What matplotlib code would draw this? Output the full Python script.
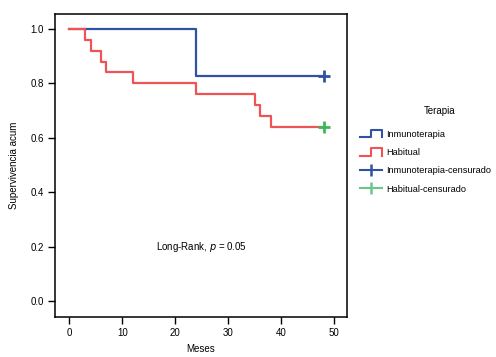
import matplotlib
matplotlib.use('Agg')
import matplotlib.pyplot as plt
from matplotlib.lines import Line2D
from matplotlib.legend_handler import HandlerBase

plt.rcParams['font.family'] = ['Liberation Sans', 'DejaVu Sans']

# ---- data ----
inmuno_t = [0, 24, 48]
inmuno_s = [1.0, 0.828, 0.828]
hab_t = [0, 3, 4, 6, 7, 12, 24, 35, 36, 38, 48]
hab_s = [1.0, 0.96, 0.92, 0.88, 0.84, 0.80, 0.76, 0.72, 0.68, 0.64, 0.64]
inmuno_cens_t = [48]
inmuno_cens_s = [0.828]
hab_cens_t = [48]
hab_cens_s = [0.64]
xticks = [0, 10, 20, 30, 40, 50]
yticks = [0.0, 0.2, 0.4, 0.6, 0.8, 1.0]
labels = ['Inmunoterapia', 'Habitual', 'Inmunoterapia-censurado', 'Habitual-censurado']

BLUE = '#2F52A3'
RED = '#EF5356'
GREEN = '#3DB55A'
GREEN_LEG = '#6CC68A'

fig = plt.figure(figsize=(4.96, 3.57), dpi=100)
ax = fig.add_axes([55/496, 1-317/357, (347-55)/496, (317-14)/357])

ax.step(inmuno_t, inmuno_s, where='post', color=BLUE, lw=1.6, zorder=2)
ax.step(hab_t, hab_s, where='post', color=RED, lw=1.6, zorder=3)
ax.plot(inmuno_cens_t, inmuno_cens_s, ls='none', marker='+', ms=9, mew=2, color=BLUE, zorder=4)
ax.plot(hab_cens_t, hab_cens_s, ls='none', marker='+', ms=9, mew=2, color=GREEN, zorder=4)

ax.set_xlim(-2.7, 52.4)
ax.set_ylim(-0.059, 1.055)
ax.set_xticks(xticks)
ax.set_yticks(yticks)
ax.set_yticklabels([f'{v:.1f}' for v in yticks])
ax.tick_params(direction='out', length=5, width=1, labelsize=7, pad=3)
for sp in ax.spines.values():
    sp.set_linewidth(1.1)

ax.set_xlabel('Meses', fontsize=7, labelpad=4)
ax.set_ylabel('Supervivencia acum', fontsize=7, labelpad=8)

ax.text(25, 0.2, 'Long-Rank, $\\mathit{p}$ = 0.05', ha='center', va='center', fontsize=7)


class StepHandler(HandlerBase):
    def create_artists(self, legend, orig_handle, xdescent, ydescent, width, height, fontsize, trans):
        x0 = -xdescent
        y0 = -ydescent
        xs = [x0, x0 + width / 2, x0 + width / 2, x0 + width, x0 + width]
        ys = [y0, y0, y0 + height, y0 + height, y0]
        ln = Line2D(xs, ys, color=orig_handle.get_color(), lw=1.5, transform=trans)
        return [ln]


class CensHandler(HandlerBase):
    def create_artists(self, legend, orig_handle, xdescent, ydescent, width, height, fontsize, trans):
        x0 = -xdescent
        y0 = -ydescent + height / 2
        c = orig_handle.get_color()
        ln = Line2D([x0, x0 + width], [y0, y0], color=c, lw=1.5, transform=trans)
        mk = Line2D([x0 + width / 2], [y0], marker='|', ms=9, mew=1.8, color=c, ls='none', transform=trans)
        return [ln, mk]


h1 = Line2D([], [], color=BLUE)
h2 = Line2D([], [], color=RED)
h3 = Line2D([], [], color=BLUE)
h4 = Line2D([], [], color=GREEN_LEG)
leg = fig.legend([h1, h2, h3, h4], labels,
                 handler_map={h1: StepHandler(), h2: StepHandler(), h3: CensHandler(), h4: CensHandler()},
                 fontsize=6.6, frameon=False,
                 loc='upper left', bbox_to_anchor=(360/496, 1-130/357),
                 handlelength=2.4, handleheight=0.85, handletextpad=0.5, labelspacing=1.0,
                 borderaxespad=0, borderpad=0)
fig.text(440/496, 1-111/357, 'Terapia', ha='center', va='center', fontsize=7)

fig.savefig('out.png', dpi=100)
